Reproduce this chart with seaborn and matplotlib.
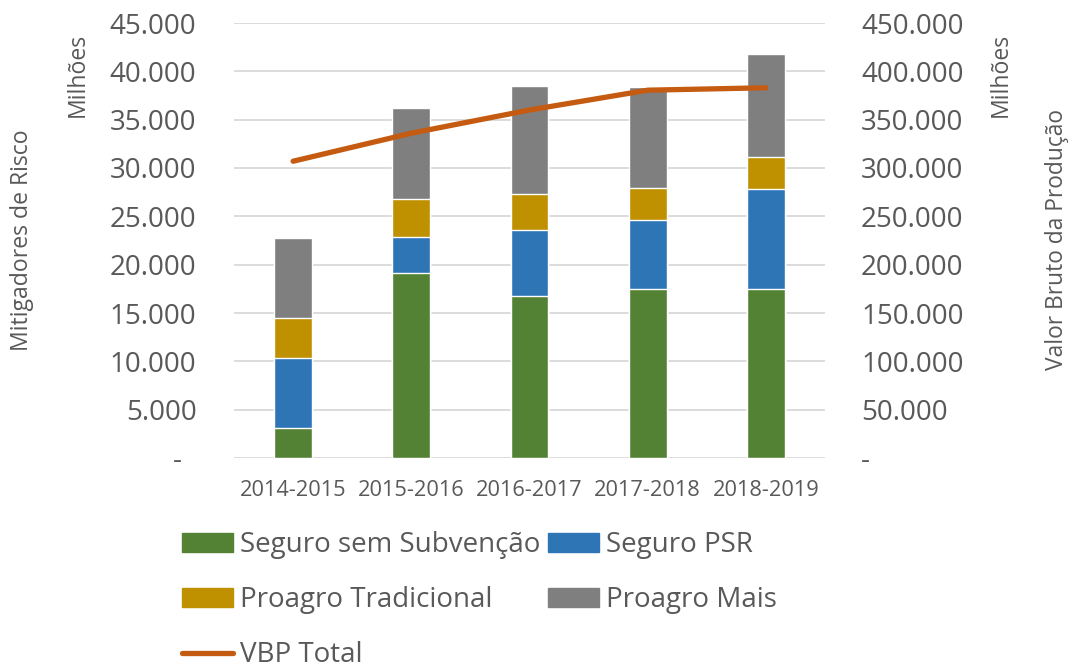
import numpy as np
import pandas as pd
import matplotlib.pyplot as plt
import matplotlib.ticker as mticker
from matplotlib.patches import Patch
from matplotlib.lines import Line2D
import seaborn as sns

# ========== data (milhões)
safras = ['2014-2015', '2015-2016', '2016-2017', '2017-2018', '2018-2019']
seguro_sem_sub = [3100, 19100, 16800, 17450, 17450]
seguro_psr = [7200, 3800, 6800, 7200, 10350]
proagro_trad = [4200, 3900, 3700, 3250, 3300]
proagro_mais = [8250, 9400, 11200, 10450, 10700]
vbp_total = [307000, 336000, 360000, 380500, 383000]

c_green = '#548235'
c_blue = '#2E75B6'
c_gold = '#BF9000'
c_gray = '#7F7F7F'
c_line = '#C55A11'
c_text = '#595959'

sns.set_theme(style='white')
plt.rcParams['font.family'] = ['Open Sans', 'DejaVu Sans']

df = pd.DataFrame({'safra': safras,
                   'sem_sub': seguro_sem_sub,
                   'psr': seguro_psr,
                   'trad': proagro_trad,
                   'mais': proagro_mais})
# cumulative stack, drawn from tallest to shortest
df['c1'] = df['sem_sub']
df['c2'] = df['c1'] + df['psr']
df['c3'] = df['c2'] + df['trad']
df['c4'] = df['c3'] + df['mais']

fig = plt.figure(figsize=(10.72, 6.7), dpi=100)
ax = fig.add_axes([234/1072, 1 - 458/670, (825-234)/1072, (458-23)/670])

for col, colr in [('c4', c_gray), ('c3', c_gold), ('c2', c_blue), ('c1', c_green)]:
    sns.barplot(data=df, x='safra', y=col, color=colr, saturation=1, width=0.32, ax=ax)

ax.set_ylim(0, 45000)
ax.set_yticks(np.arange(0, 45001, 5000))
ax.set_axisbelow(True)
ax.grid(axis='y', color='#D9D9D9', linewidth=1.3)
ax.grid(axis='x', visible=False)
for s in ax.spines.values():
    s.set_visible(False)


def fmt(v, pos):
    if v == 0:
        return '-  '
    return f'{int(v):,}'.replace(',', '.')


def fmt_r(v, pos):
    if v == 0:
        return '-'
    return f'{int(v):,}'.replace(',', '.')


ax.yaxis.set_major_formatter(mticker.FuncFormatter(fmt))
ax.tick_params(axis='y', length=0, pad=27, labelsize=20, labelcolor=c_text)
ax.tick_params(axis='x', length=0, pad=16, labelsize=15.7, labelcolor=c_text)
ax.set_xlabel('')
ax.set_ylabel('')

ax2 = ax.twinx()
sns.lineplot(x=np.arange(len(safras)), y=vbp_total, ax=ax2, color=c_line,
             linewidth=3.8, solid_capstyle='round')
ax2.set_ylim(0, 450000)
ax2.set_yticks(np.arange(0, 450001, 50000))
ax2.yaxis.set_major_formatter(mticker.FuncFormatter(fmt_r))
ax2.tick_params(axis='y', length=0, pad=26, labelsize=20, labelcolor=c_text)
ax2.grid(False)
for s in ax2.spines.values():
    s.set_visible(False)
ax.set_xlim(-0.5, len(safras) - 0.5)

fig.text(22/1072, 1 - 240/670, 'Mitigadores de Risco', rotation=90, ha='center', va='center',
         fontsize=16.6, color=c_text)
fig.text(78/1072, 1 - 75/670, 'Milhões', rotation=90, ha='center', va='center',
         fontsize=16.6, color=c_text)
fig.text(1001/1072, 1 - 75/670, 'Milhões', rotation=90, ha='center', va='center',
         fontsize=16.6, color=c_text)
fig.text(1057/1072, 1 - 240/670, 'Valor Bruto da Produção', rotation=90, ha='center', va='center',
         fontsize=16.4, color=c_text)

handles = [Patch(color=c_green), Patch(color=c_gold),
           Line2D([0], [0], color=c_line, linewidth=3.8, solid_capstyle='round'),
           Patch(color=c_blue), Patch(color=c_gray)]
labels = ['Seguro sem Subvenção', 'Proagro Tradicional', 'VBP Total',
          'Seguro PSR', 'Proagro Mais']
fig.legend(handles, labels, ncol=2, loc='upper left', bbox_to_anchor=(182/1072, 1 - 531/670),
           frameon=False, fontsize=20, handlelength=1.83, handleheight=0.68,
           handletextpad=0.25, columnspacing=0.3, labelspacing=0.98,
           borderpad=0, borderaxespad=0, labelcolor=c_text)

fig.savefig('out.png', dpi=100)
